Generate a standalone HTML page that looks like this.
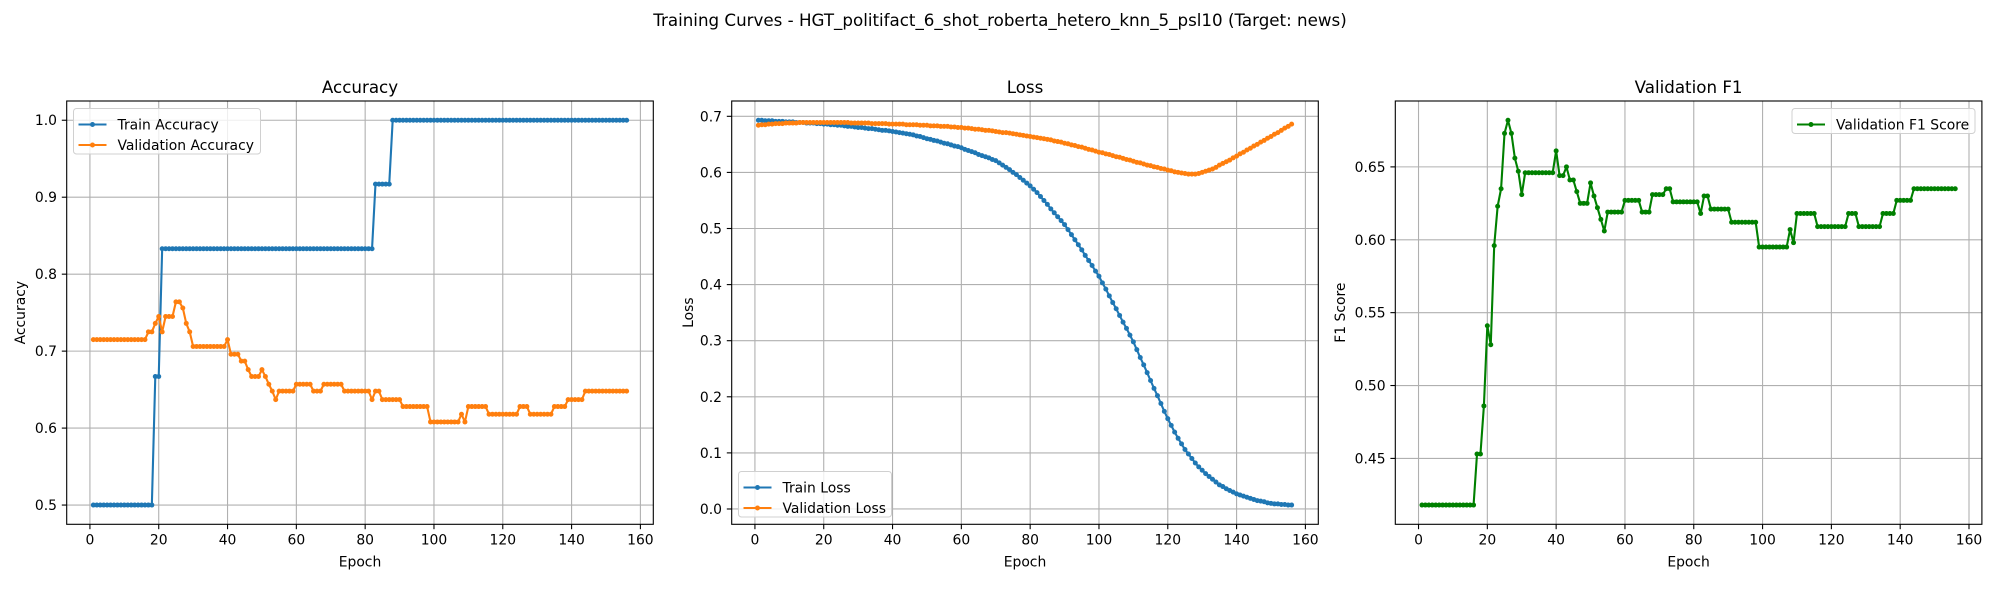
<!DOCTYPE html>
<html><head><meta charset="utf-8"><style>
html,body{margin:0;padding:0;background:#fff;}
svg{display:block;font-family:"DejaVu Sans","Liberation Sans",sans-serif;}
</style></head><body>
<svg id="fig" width="2000" height="600" viewBox="0 0 2000 600" xmlns="http://www.w3.org/2000/svg">
<rect width="2000" height="600" fill="#fff"/>
<text x="1000" y="26" text-anchor="middle" font-size="16.7" fill="#000">Training Curves - HGT_politifact_6_shot_roberta_hetero_knn_5_psl10 (Target: news)</text>
</svg>
<script>
const trainAcc = [0.5,0.5,0.5,0.5,0.5,0.5,0.5,0.5,0.5,0.5,0.5,0.5,0.5,0.5,0.5,0.5,0.5,0.5,0.667,0.667,
0.833,0.833,0.833,0.833,0.833,0.833,0.833,0.833,0.833,0.833,0.833,0.833,0.833,0.833,0.833,0.833,0.833,0.833,0.833,0.833,
0.833,0.833,0.833,0.833,0.833,0.833,0.833,0.833,0.833,0.833,0.833,0.833,0.833,0.833,0.833,0.833,0.833,0.833,0.833,0.833,
0.833,0.833,0.833,0.833,0.833,0.833,0.833,0.833,0.833,0.833,0.833,0.833,0.833,0.833,0.833,0.833,0.833,0.833,0.833,0.833,
0.833,0.833,0.917,0.917,0.917,0.917,0.917,1,1,1,1,1,1,1,1,1,1,1,1,1,
1,1,1,1,1,1,1,1,1,1,1,1,1,1,1,1,1,1,1,1,
1,1,1,1,1,1,1,1,1,1,1,1,1,1,1,1,1,1,1,1,
1,1,1,1,1,1,1,1,1,1,1,1,1,1,1,1];
const valAcc = [0.715,0.715,0.715,0.715,0.715,0.715,0.715,0.715,0.715,0.715,0.715,0.715,0.715,0.715,0.715,0.715,0.725,0.725,0.736,0.745,
0.725,0.745,0.745,0.745,0.764,0.764,0.756,0.736,0.725,0.706,0.706,0.706,0.706,0.706,0.706,0.706,0.706,0.706,0.706,0.715,
0.696,0.696,0.696,0.687,0.687,0.676,0.667,0.667,0.667,0.676,0.667,0.657,0.648,0.637,0.648,0.648,0.648,0.648,0.648,0.657,
0.657,0.657,0.657,0.657,0.648,0.648,0.648,0.657,0.657,0.657,0.657,0.657,0.657,0.648,0.648,0.648,0.648,0.648,0.648,0.648,
0.648,0.637,0.648,0.648,0.637,0.637,0.637,0.637,0.637,0.637,0.628,0.628,0.628,0.628,0.628,0.628,0.628,0.628,0.608,0.608,
0.608,0.608,0.608,0.608,0.608,0.608,0.608,0.618,0.608,0.628,0.628,0.628,0.628,0.628,0.628,0.618,0.618,0.618,0.618,0.618,
0.618,0.618,0.618,0.618,0.628,0.628,0.628,0.618,0.618,0.618,0.618,0.618,0.618,0.618,0.628,0.628,0.628,0.628,0.637,0.637,
0.637,0.637,0.637,0.648,0.648,0.648,0.648,0.648,0.648,0.648,0.648,0.648,0.648,0.648,0.648,0.648];
const trainLoss = [0.693,0.693,0.692,0.692,0.692,0.691,0.691,0.691,0.690,0.690,
0.690,0.689,0.689,0.689,0.688,0.688,0.688,0.687,0.687,0.686,
0.686,0.685,0.685,0.684,0.684,0.683,0.682,0.682,0.681,0.680,
0.680,0.679,0.678,0.678,0.677,0.676,0.675,0.675,0.674,0.673,
0.672,0.671,0.670,0.669,0.668,0.667,0.665,0.664,0.662,0.660,
0.659,0.657,0.656,0.654,0.652,0.651,0.649,0.647,0.646,0.644,
0.641,0.639,0.637,0.635,0.632,0.630,0.628,0.626,0.623,0.621,
0.617,0.613,0.609,0.605,0.600,0.596,0.591,0.586,0.581,0.576,
0.570,0.564,0.557,0.550,0.543,0.535,0.528,0.521,0.514,0.507,
0.498,0.489,0.480,0.471,0.462,0.452,0.443,0.434,0.424,0.415,
0.403,0.392,0.380,0.368,0.357,0.345,0.333,0.322,0.310,0.298,
0.284,0.270,0.257,0.243,0.229,0.215,0.202,0.188,0.174,0.161,
0.149,0.137,0.126,0.116,0.106,0.098,0.090,0.082,0.075,0.069,
0.063,0.058,0.053,0.048,0.043,0.040,0.036,0.033,0.030,0.027,
0.025,0.023,0.021,0.019,0.017,0.015,0.014,0.013,0.011,0.010,
0.009,0.009,0.008,0.008,0.007,0.007];
const valLoss = [0.684,0.685,0.685,0.686,0.686,0.687,0.687,0.687,0.688,0.688,
0.688,0.688,0.689,0.689,0.689,0.689,0.689,0.689,0.689,0.689,
0.689,0.689,0.689,0.689,0.689,0.689,0.689,0.688,0.688,0.688,
0.688,0.688,0.688,0.687,0.687,0.687,0.687,0.687,0.686,0.686,
0.686,0.686,0.686,0.685,0.685,0.685,0.685,0.684,0.684,0.684,
0.683,0.683,0.683,0.682,0.682,0.682,0.681,0.681,0.680,0.680,
0.679,0.679,0.678,0.677,0.677,0.676,0.675,0.675,0.674,0.673,
0.672,0.671,0.671,0.670,0.669,0.668,0.667,0.666,0.665,0.664,
0.663,0.662,0.661,0.660,0.659,0.658,0.656,0.655,0.654,0.652,
0.651,0.649,0.648,0.646,0.645,0.643,0.641,0.640,0.638,0.636,
0.635,0.633,0.632,0.630,0.628,0.627,0.625,0.623,0.622,0.620,
0.618,0.617,0.615,0.613,0.612,0.610,0.609,0.607,0.606,0.604,
0.603,0.601,0.600,0.599,0.598,0.597,0.597,0.597,0.598,0.600,
0.602,0.604,0.606,0.609,0.613,0.616,0.619,0.622,0.626,0.629,
0.633,0.636,0.640,0.643,0.647,0.650,0.654,0.657,0.661,0.664,
0.668,0.671,0.675,0.679,0.682,0.686];
const valF1 = [0.418,0.418,0.418,0.418,0.418,0.418,0.418,0.418,0.418,0.418,0.418,0.418,0.418,0.418,0.418,0.418,0.453,0.453,0.486,0.541,
0.528,0.596,0.623,0.635,0.673,0.682,0.673,0.656,0.647,0.631,0.646,0.646,0.646,0.646,0.646,0.646,0.646,0.646,0.646,0.661,
0.644,0.644,0.650,0.641,0.641,0.633,0.625,0.625,0.625,0.639,0.630,0.622,0.614,0.606,0.619,0.619,0.619,0.619,0.619,0.627,
0.627,0.627,0.627,0.627,0.619,0.619,0.619,0.631,0.631,0.631,0.631,0.635,0.635,0.626,0.626,0.626,0.626,0.626,0.626,0.626,
0.626,0.618,0.630,0.630,0.621,0.621,0.621,0.621,0.621,0.621,0.612,0.612,0.612,0.612,0.612,0.612,0.612,0.612,0.595,0.595,
0.595,0.595,0.595,0.595,0.595,0.595,0.595,0.607,0.598,0.618,0.618,0.618,0.618,0.618,0.618,0.609,0.609,0.609,0.609,0.609,
0.609,0.609,0.609,0.609,0.618,0.618,0.618,0.609,0.609,0.609,0.609,0.609,0.609,0.609,0.618,0.618,0.618,0.618,0.627,0.627,
0.627,0.627,0.627,0.635,0.635,0.635,0.635,0.635,0.635,0.635,0.635,0.635,0.635,0.635,0.635,0.635];
const xTicks = [0,20,40,60,80,100,120,140,160];
const accTicks = [0.5,0.6,0.7,0.8,0.9,1.0];
const accTickLabels = ["0.5","0.6","0.7","0.8","0.9","1.0"];
const lossTicks = [0,0.1,0.2,0.3,0.4,0.5,0.6,0.7];
const lossTickLabels = ["0.0","0.1","0.2","0.3","0.4","0.5","0.6","0.7"];
const f1Ticks = [0.45,0.5,0.55,0.6,0.65];
const f1TickLabels = ["0.45","0.50","0.55","0.60","0.65"];

const NS = "http://www.w3.org/2000/svg";
const svg = document.getElementById('fig');
function mk(tag, attrs, parent){const e=document.createElementNS(NS,tag);for(const k in attrs)e.setAttribute(k,attrs[k]);(parent||svg).appendChild(e);return e;}
const TOP=101, BOT=524.3, W=586.6, MR=2.5;

function panel(o){
  const g = mk('g',{});
  
  
  const L=o.left, R=L+W;
  let mn=Infinity,mx=-Infinity;
  o.series.forEach(s=>s.data.forEach(v=>{mn=Math.min(mn,v);mx=Math.max(mx,v);}));
  const n=o.series[0].data.length;
  const xr=n-1, x0=1-0.05*xr, x1=n+0.05*xr;
  const yr=mx-mn, y0=mn-0.05*yr, y1=mx+0.05*yr;
  const X=v=>L+(v-x0)/(x1-x0)*W;
  const Y=v=>BOT-(v-y0)/(y1-y0)*(BOT-TOP);
  xTicks.forEach(t=>{const x=X(t);if(x<L-0.5||x>R+0.5)return;
    const ln=mk('line',{x1:x,x2:x,y1:TOP,y2:BOT,stroke:'#b0b0b0','stroke-width':1.1},g);
    
    
    mk('line',{x1:x,x2:x,y1:BOT,y2:BOT+4.9,stroke:'#000','stroke-width':1.1},g);
    const tx=mk('text',{x:x,y:BOT+20,'text-anchor':'middle','font-size':13.9,fill:'#000'},g);
    tx.textContent=String(t);
    
    
  });
  o.yTicks.forEach((t,i)=>{const y=Y(t);
    const ln=mk('line',{x1:L,x2:R,y1:y,y2:y,stroke:'#b0b0b0','stroke-width':1.1},g);
    
    
    mk('line',{x1:L-4.9,x2:L,y1:y,y2:y,stroke:'#000','stroke-width':1.1},g);
    const tx=mk('text',{x:L-9.7,y:y+5,'text-anchor':'end','font-size':13.9,fill:'#000'},g);
    tx.textContent=o.yLabels[i];
    
    
  });
  o.series.forEach(s=>{
    const sg=mk('g',{},g);
    
    
    const pts=s.data.map((v,i)=>X(i+1).toFixed(2)+','+Y(v).toFixed(2)).join(' ');
    mk('polyline',{points:pts,fill:'none',stroke:s.color,'stroke-width':2.1,'stroke-linejoin':'round'},sg);
    s.data.forEach((v,i)=>{
      const c=mk('circle',{cx:X(i+1),cy:Y(v),r:MR,fill:s.color},sg);
      
      
    });
  });
  const fr=mk('rect',{x:L,y:TOP,width:W,height:BOT-TOP,fill:'none',stroke:'#000','stroke-width':1.1},g);
  
  
  const ti=mk('text',{x:L+W/2,y:TOP-8,'text-anchor':'middle','font-size':16.7,fill:'#000'},g);
  ti.textContent=o.title;
  
  
  const xl=mk('text',{x:L+W/2,y:BOT+42,'text-anchor':'middle','font-size':13.9,fill:'#000'},g);
  xl.textContent='Epoch';
  
  
  const yl=mk('text',{x:0,y:0,'text-anchor':'middle','font-size':13.9,fill:'#000',transform:`translate(${o.ylabX},${(TOP+BOT)/2}) rotate(-90)`},g);
  yl.textContent=o.ylabel;
  
  
  const lg=mk('g',{},g);
  
  
  const lb=o.legend;
  mk('rect',{x:lb.x,y:lb.y,width:lb.w,height:lb.h,rx:3,fill:'#fff','fill-opacity':0.8,stroke:'#d0d0d0','stroke-width':1},lg);
  o.series.forEach((s,i)=>{
    const ey=lb.y+16+i*20.5;
    const eg=mk('g',{},lg);
    
    
    mk('line',{x1:lb.x+5,x2:lb.x+33,y1:ey,y2:ey,stroke:s.color,'stroke-width':2.1},eg);
    mk('circle',{cx:lb.x+19,cy:ey,r:MR,fill:s.color},eg);
    const t=mk('text',{x:lb.x+44,y:ey+5,'font-size':13.9,fill:'#000'},eg);
    t.textContent=s.label;
  });
}
panel({name:'accuracy-panel',left:66.7,title:'Accuracy',ylabel:'Accuracy',ylabX:25,yTicks:accTicks,yLabels:accTickLabels,
  series:[{key:'train-accuracy-line',label:'Train Accuracy',color:'#1f77b4',data:trainAcc},
          {key:'validation-accuracy-line',label:'Validation Accuracy',color:'#ff7f0e',data:valAcc}],
  legend:{x:73.5,y:108.5,w:187,h:45.5}});
panel({name:'loss-panel',left:731.7,title:'Loss',ylabel:'Loss',ylabX:693,yTicks:lossTicks,yLabels:lossTickLabels,
  series:[{key:'train-loss-line',label:'Train Loss',color:'#1f77b4',data:trainLoss},
          {key:'validation-loss-line',label:'Validation Loss',color:'#ff7f0e',data:valLoss}],
  legend:{x:738.5,y:471.5,w:153,h:45.5}});
panel({name:'f1-panel',left:1395.3,title:'Validation F1',ylabel:'F1 Score',ylabX:1345,yTicks:f1Ticks,yLabels:f1TickLabels,
  series:[{key:'validation-f1-line',label:'Validation F1 Score',color:'#008000',data:valF1}],
  legend:{x:1792,y:108.5,w:183,h:25}});
</script>
</body></html>
